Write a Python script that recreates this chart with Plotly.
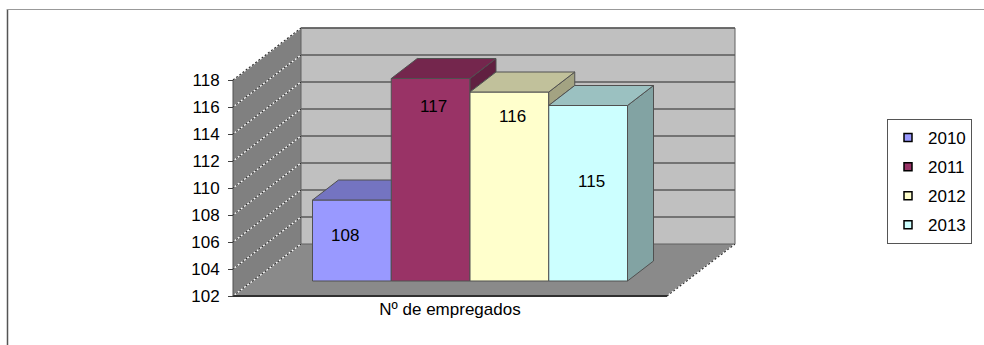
import plotly.graph_objects as go

# ---------------- data ----------------
category = "Nº de empregados"
series = ["2010", "2011", "2012", "2013"]
values = [108, 117, 116, 115]
y_ticks = [102, 104, 106, 108, 110, 112, 114, 116, 118]

# ---------------- style ----------------
colors = ["#9999FF", "#993366", "#FFFFCC", "#CCFFFF"]
label_y = [105.4, 114.9, 114.15, 109.35]   # label positions (value-axis units)
label_xshift = [-7, 3, 3, 3]
FONT = "Liberation Sans, Arial, sans-serif"
FS = 17

W, H = 984, 345
FLOOR_PX = 296      # pixel row of the lowest tick on the front plane
CAT_PX = 450        # pixel column of the category centre (front plane)
UNIT_X = 434        # px per category unit
UNIT_Y = 13.5       # px per value unit
y_min, y_max = y_ticks[0], y_ticks[-1]

x_range = [-CAT_PX / UNIT_X, (W - CAT_PX) / UNIT_X]
y_range = [y_min - (H - FLOOR_PX) / UNIT_Y, y_min + FLOOR_PX / UNIT_Y]

WDX, WDY = 68 / UNIT_X, 52 / UNIT_Y      # wall depth
PDX, PDY = 20 / UNIT_X, 15 / UNIT_Y      # bar plane offset
BDX, BDY = 26 / UNIT_X, 20 / UNIT_Y      # bar depth
GROUP_W = 315 / UNIT_X


def shade(hexcol, f):
    h = hexcol.lstrip("#")
    r, g, b = (int(h[i:i + 2], 16) for i in (0, 2, 4))
    return "rgb(%d,%d,%d)" % (r * f, g * f, b * f)


def path(pts):
    return "M " + " L ".join("%f,%f" % p for p in pts) + " Z"


shapes = []
xl0, xr0 = -0.5, 0.5
# left wall
shapes.append(dict(type="path", xref="x", yref="y", layer="below",
                   path=path([(xl0, y_min), (xl0, y_max), (xl0 + WDX, y_max + WDY), (xl0 + WDX, y_min + WDY)]),
                   fillcolor="#808080", line=dict(width=0)))
# floor
shapes.append(dict(type="path", xref="x", yref="y", layer="below",
                   path=path([(xl0, y_min), (xr0, y_min), (xr0 + WDX, y_min + WDY), (xl0 + WDX, y_min + WDY)]),
                   fillcolor="#8a8a8a", line=dict(width=0)))
# back wall
shapes.append(dict(type="rect", xref="x", yref="y", layer="below",
                   x0=xl0 + WDX, x1=xr0 + WDX, y0=y_min + WDY, y1=y_max + WDY,
                   fillcolor="#c0c0c0", line=dict(color="#606060", width=1)))
# back wall grid lines
for t in y_ticks[1:]:
    shapes.append(dict(type="line", xref="x", yref="y", layer="below",
                       x0=xl0 + WDX, x1=xr0 + WDX, y0=t + WDY, y1=t + WDY,
                       line=dict(color="#5a5a5a", width=1.5)))
# left wall grid lines (dotted)
for t in y_ticks:
    for col, dash, wd in (("#ffffff", "solid", 1.2), ("#303030", "2px,2px", 1.2)):
        shapes.append(dict(type="line", xref="x", yref="y", layer="below",
                           x0=xl0, x1=xl0 + WDX, y0=t, y1=t + WDY,
                           line=dict(color=col, width=wd, dash=dash)))
# floor right edge (dotted)
for col, dash in (("#ffffff", "solid"), ("#303030", "2px,2px")):
    shapes.append(dict(type="line", xref="x", yref="y", layer="below",
                       x0=xr0, x1=xr0 + WDX, y0=y_min, y1=y_min + WDY,
                       line=dict(color=col, width=1.2, dash=dash)))
# floor front edge and left wall front edge
shapes.append(dict(type="line", xref="x", yref="y", layer="below",
                   x0=xl0, x1=xr0, y0=y_min, y1=y_min, line=dict(color="#303030", width=2)))
shapes.append(dict(type="line", xref="x", yref="y", layer="below",
                   x0=xl0, x1=xl0, y0=y_min, y1=y_max, line=dict(color="#505050", width=1)))
# outer chart frame
shapes.append(dict(type="line", xref="paper", yref="paper", x0=7.5 / W, x1=7.5 / W,
                   y0=0, y1=1 - 9 / H, line=dict(color="#555555", width=1.5)))
shapes.append(dict(type="line", xref="paper", yref="paper", x0=7 / W, x1=1,
                   y0=1 - 9.5 / H, y1=1 - 9.5 / H, line=dict(color="#999999", width=1)))

fig = go.Figure()

n = len(values)
bw = GROUP_W / n
for i, (s, v, c) in enumerate(zip(series, values, colors)):
    fig.add_trace(go.Bar(
        x=[0], y=[v - y_min], base=y_min, width=bw, offset=-GROUP_W / 2 + i * bw,
        xaxis="x2", yaxis="y2", name=s, showlegend=False,
        customdata=[v], hovertemplate="%{customdata}<extra>" + s + "</extra>",
        marker=dict(color=c, line=dict(color="#505050", width=1))))

for i, (s, v, c) in enumerate(zip(series, values, colors)):
    xl = -GROUP_W / 2 + i * bw
    xr = xl + bw
    nxt = values[i + 1] if i + 1 < n else None
    if nxt is None or nxt < v:
        lo = y_min if nxt is None else nxt
        fig.add_trace(go.Scatter(
            x=[xr, xr, xr + BDX, xr + BDX, xr], y=[lo, v, v + BDY, lo + BDY, lo],
            xaxis="x2", yaxis="y2", mode="lines", fill="toself",
            fillcolor=shade(c, 0.64), line=dict(color="#505050", width=1),
            hoverinfo="skip", showlegend=False))
    if nxt is not None and nxt > v:
        tx = [xl, xr, xr, xl + BDX, xl]
    else:
        tx = [xl, xr, xr + BDX, xl + BDX, xl]
    fig.add_trace(go.Scatter(
        x=tx, y=[v, v, v + BDY, v + BDY, v],
        xaxis="x2", yaxis="y2", mode="lines", fill="toself",
        fillcolor=shade(c, 0.76), line=dict(color="#505050", width=1),
        hoverinfo="skip", showlegend=False))

# legend entries
for s, c in zip(series, colors):
    fig.add_trace(go.Scatter(
        x=[None], y=[None], mode="markers", name=s, legendgroup=s,
        marker=dict(symbol="square", size=8, color=c, line=dict(color="#000000", width=1.5))))

annotations = []
for i, v in enumerate(values):
    xc = -GROUP_W / 2 + (i + 0.5) * bw
    annotations.append(dict(xref="x2", yref="y2", x=xc, y=label_y[i], text=str(v),
                            showarrow=False, xshift=label_xshift[i],
                            font=dict(family=FONT, size=FS, color="#000000")))

fig.update_layout(
    width=W, height=H, margin=dict(l=0, r=0, t=0, b=0),
    paper_bgcolor="white", plot_bgcolor="white",
    font=dict(family=FONT, size=FS, color="#000000"),
    barmode="overlay",
    shapes=shapes, annotations=annotations,
    xaxis=dict(range=x_range, domain=[0, 1], showgrid=False, zeroline=False,
               showline=False, ticks="", tickvals=[0], ticktext=[category],
               anchor="free", position=(H - FLOOR_PX - 1) / H, automargin=False,
               tickfont=dict(size=FS), fixedrange=True),
    yaxis=dict(range=y_range, domain=[0, 1], showgrid=False, zeroline=False,
               showline=False, ticks="outside", ticklen=5, tickcolor="#404040",
               tickvals=y_ticks, anchor="free", position=(CAT_PX + xl0 * UNIT_X) / W,
               ticklabelstandoff=5, tickfont=dict(size=FS),
               automargin=False, fixedrange=True),
    xaxis2=dict(range=[x_range[0] - PDX, x_range[1] - PDX], overlaying="x",
                visible=False, fixedrange=True),
    yaxis2=dict(range=[y_range[0] - PDY, y_range[1] - PDY], overlaying="y",
                visible=False, fixedrange=True),
    legend=dict(x=887 / W, y=1 - 119 / H, xanchor="left", yanchor="top",
                bordercolor="#555555", borderwidth=1, bgcolor="white",
                font=dict(family=FONT, size=FS), tracegroupgap=4),
    showlegend=True,
)

fig.write_html("out.html")
